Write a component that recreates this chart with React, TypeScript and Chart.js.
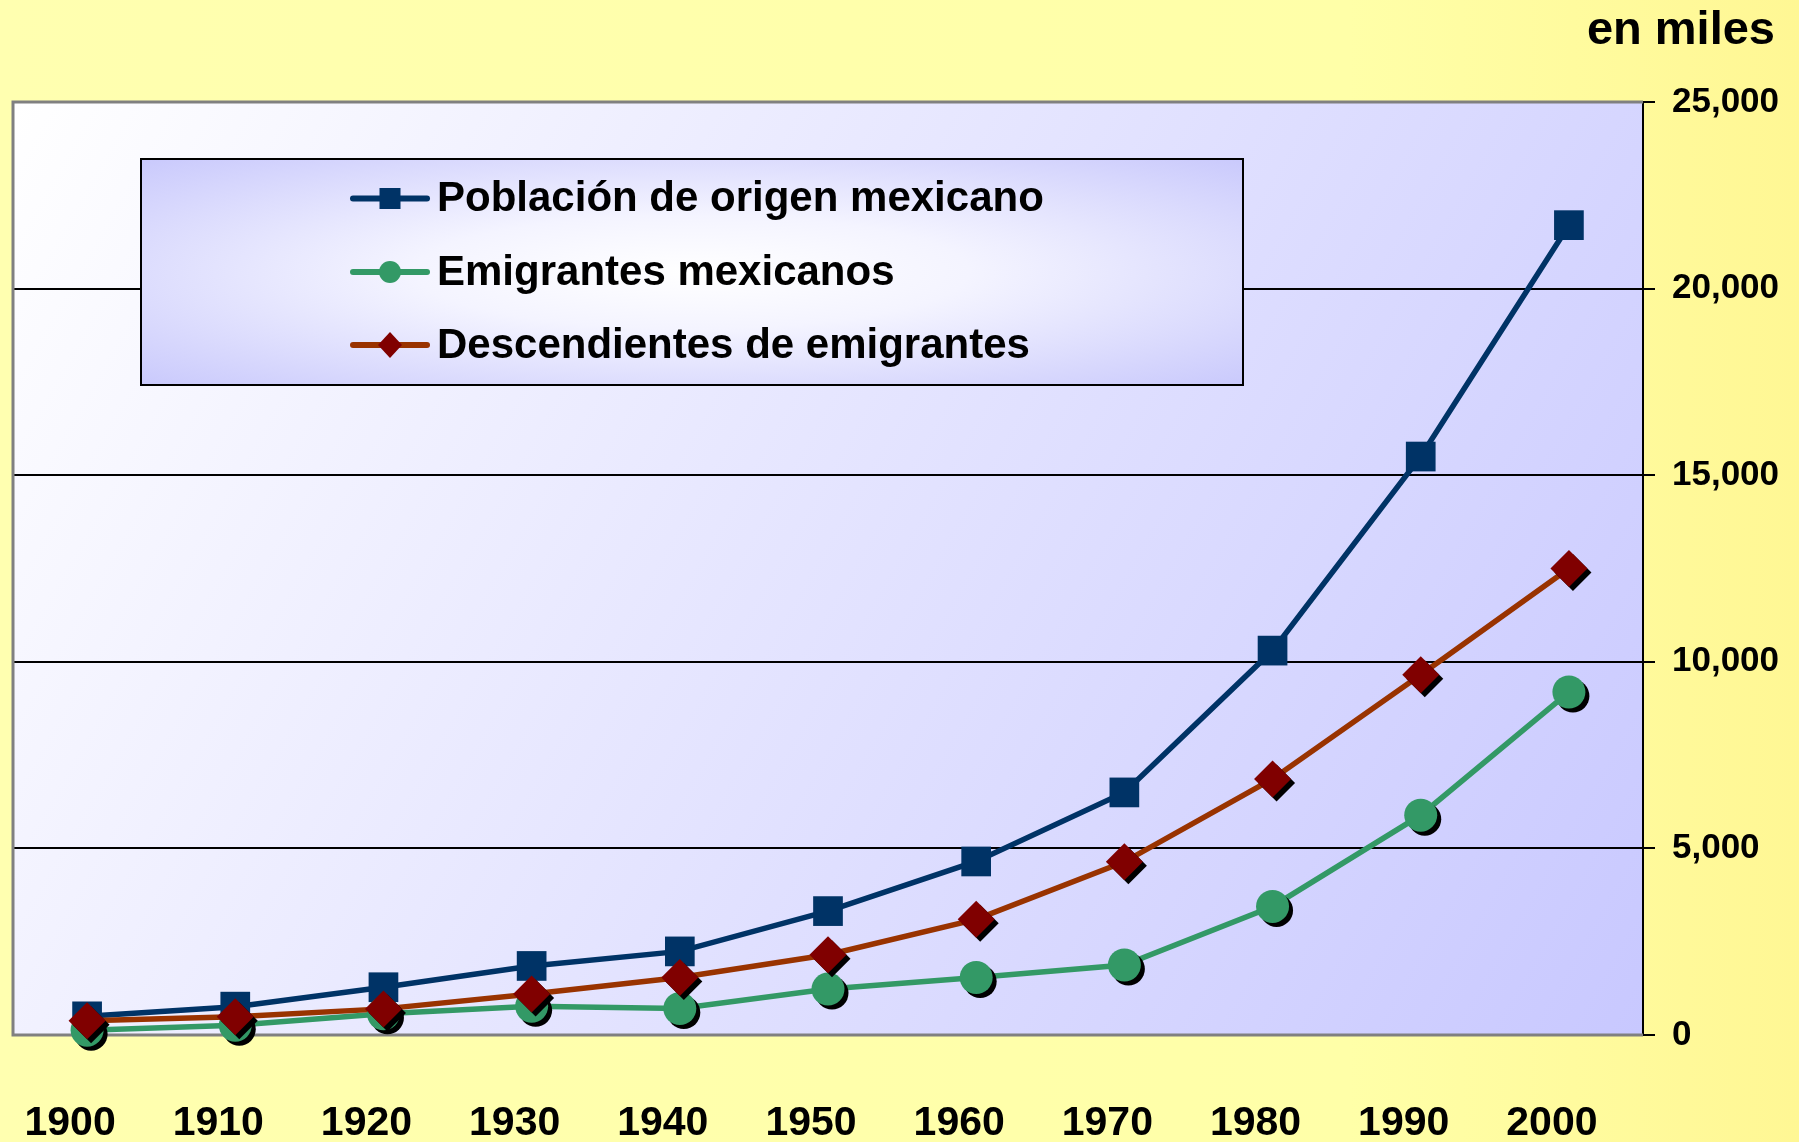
import React, { useEffect, useRef } from 'react';
import { Chart, registerables } from 'chart.js';

Chart.register(...registerables);

const years = ['1900', '1910', '1920', '1930', '1940', '1950', '1960', '1970', '1980', '1990', '2000'];
const poblacion = [500, 760, 1280, 1850, 2240, 3320, 4650, 6500, 10300, 15500, 21700];
const emigrantes = [130, 260, 570, 770, 710, 1230, 1540, 1875, 3445, 5890, 9190];
const descendientes = [380, 490, 700, 1100, 1540, 2150, 3100, 4640, 6860, 9650, 12500];
const seriesNames = ['Población de origen mexicano', 'Emigrantes mexicanos', 'Descendientes de emigrantes'];
const yTicks = [0, 5000, 10000, 15000, 20000, 25000];
const unitLabel = 'en miles';

const FONT = '"Liberation Sans", Arial, sans-serif';

const lineColors = ['#003366', '#339966', '#993300'];
const markerColors = ['#003366', '#339966', '#800000'];
const markerStyles = ['rect', 'circle', 'rectRot'];
const markerRadius = [21, 16.5, 18.5];
const markerShadow = [false, true, true];

export default function App() {
  const ref = useRef<HTMLCanvasElement | null>(null);

  useEffect(() => {
    const canvas = ref.current;
    if (!canvas) return;
    const seriesData = [poblacion, emigrantes, descendientes];

    const lineSets = seriesData.map((d, i) => ({
      label: seriesNames[i],
      data: d,
      borderColor: lineColors[i],
      backgroundColor: lineColors[i],
      borderWidth: 5.5,
      pointRadius: 0,
      tension: 0,
      clip: false as any,
      order: 10 - i,
    }));
    const pointSets = seriesData.map((d, i) => ({
      label: seriesNames[i] + ' (marcadores)',
      data: d,
      showLine: false,
      borderWidth: 0,
      borderColor: markerColors[i],
      backgroundColor: markerColors[i],
      pointStyle: markerStyles[i] as any,
      pointRadius: markerRadius[i],
      clip: false as any,
      order: 3 - i,
      markerShadow: markerShadow[i],
    }));

    const bgPlugin = {
      id: 'bgPlugin',
      beforeDraw(chart: any) {
        const { ctx, width, height, chartArea: ca } = chart;
        ctx.save();
        const g = ctx.createLinearGradient(0, 0, width, 0);
        g.addColorStop(0, '#ffffb0');
        g.addColorStop(0.75, '#ffffa8');
        g.addColorStop(1, '#fff794');
        ctx.fillStyle = g;
        ctx.fillRect(0, 0, width, height);
        const g2 = ctx.createLinearGradient(ca.left, ca.top, ca.right, ca.bottom);
        g2.addColorStop(0, '#ffffff');
        g2.addColorStop(1, '#c8c8ff');
        ctx.fillStyle = g2;
        ctx.fillRect(ca.left, ca.top, ca.right - ca.left, ca.bottom - ca.top);
        ctx.fillStyle = '#000';
        ctx.font = `bold 47px ${FONT}`;
        ctx.textAlign = 'right';
        ctx.textBaseline = 'alphabetic';
        ctx.fillText(unitLabel, width - 24, 44);
        ctx.restore();
      },
      beforeDatasetsDraw(chart: any) {
        const { ctx, chartArea: ca } = chart;
        ctx.save();
        // grey frame (left, top, bottom)
        ctx.strokeStyle = '#808080';
        ctx.lineWidth = 3;
        ctx.beginPath();
        ctx.moveTo(ca.right, ca.top);
        ctx.lineTo(ca.left, ca.top);
        ctx.lineTo(ca.left, ca.bottom);
        ctx.lineTo(ca.right, ca.bottom);
        ctx.stroke();

        // legend box
        const bx = ca.left + 128;
        const by = ca.top + 57;
        const bw = 1102;
        const bh = 226;
        ctx.save();
        ctx.beginPath();
        ctx.rect(bx, by, bw, bh);
        ctx.clip();
        const cx = bx + bw / 2;
        const cy = by + bh / 2;
        ctx.translate(cx, cy);
        ctx.scale(bw / bh, 1);
        const rg = ctx.createRadialGradient(0, 0, 0, 0, 0, bh * 0.72);
        rg.addColorStop(0, '#ffffff');
        rg.addColorStop(0.35, '#f4f4ff');
        rg.addColorStop(1, '#c8c8fc');
        ctx.fillStyle = rg;
        ctx.fillRect(-bh, -bh, bh * 2, bh * 2);
        ctx.restore();
        ctx.strokeStyle = '#000';
        ctx.lineWidth = 2;
        ctx.strokeRect(bx, by, bw, bh);

        const rowsY = [39.5, 113, 186];
        const symX0 = bx + 212;
        const symX1 = bx + 286;
        const symC = (symX0 + symX1) / 2;
        for (let i = 0; i < 3; i++) {
          const y = by + rowsY[i];
          ctx.strokeStyle = lineColors[i];
          ctx.lineWidth = 6;
          ctx.lineCap = 'round';
          ctx.beginPath();
          ctx.moveTo(symX0, y);
          ctx.lineTo(symX1, y);
          ctx.stroke();
          ctx.fillStyle = markerColors[i];
          ctx.beginPath();
          if (i === 0) {
            ctx.rect(symC - 10.5, y - 10.5, 21, 21);
          } else if (i === 1) {
            ctx.arc(symC, y, 11, 0, Math.PI * 2);
          } else {
            ctx.moveTo(symC, y - 13);
            ctx.lineTo(symC + 12, y);
            ctx.lineTo(symC, y + 13);
            ctx.lineTo(symC - 12, y);
            ctx.closePath();
          }
          ctx.fill();
          ctx.fillStyle = '#000';
          ctx.font = `bold 42px ${FONT}`;
          ctx.textAlign = 'left';
          ctx.textBaseline = 'middle';
          ctx.fillText(seriesNames[i], bx + 296, y + 1);
        }
        ctx.restore();
      },
      beforeDatasetDraw(chart: any, args: any) {
        const ds = chart.data.datasets[args.index];
        if (ds.showLine === false) {
          const ctx = chart.ctx;
          ctx.save();
          if (ds.markerShadow) {
            ctx.shadowColor = '#000';
            ctx.shadowOffsetX = 4;
            ctx.shadowOffsetY = 4;
            ctx.shadowBlur = 0;
          }
        }
      },
      afterDatasetDraw(chart: any, args: any) {
        const ds = chart.data.datasets[args.index];
        if (ds.showLine === false) chart.ctx.restore();
      },
    };

    const chart = new Chart(canvas, {
      type: 'line',
      data: { labels: years, datasets: [...lineSets, ...pointSets] as any },
      options: {
        animation: false,
        responsive: false,
        maintainAspectRatio: false,
        events: [],
        layout: { autoPadding: false, padding: { top: 102, left: 13, right: 0, bottom: 0 } },
        plugins: { legend: { display: false }, tooltip: { enabled: false }, title: { display: false } },
        scales: {
          x: {
            offset: true,
            grid: { display: false, drawTicks: false },
            border: { display: false },
            ticks: {
              color: '#000',
              font: { family: FONT, size: 41, weight: 'bold' },
              padding: 64,
              labelOffset: -17,
              maxRotation: 0,
              autoSkip: false,
            },
            afterFit: (s: any) => { s.height = 107; s.paddingLeft = 0; s.paddingRight = 0; },
          },
          y: {
            position: 'right',
            min: 0,
            max: 25000,
            afterBuildTicks: (s: any) => { s.ticks = yTicks.map((v) => ({ value: v })); },
            ticks: {
              color: '#000',
              font: { family: FONT, size: 35, weight: 'bold' },
              padding: 17,
              callback: (v: any) => Number(v).toLocaleString('en-US'),
            },
            grid: {
              color: (c: any) => (c.tick && (c.tick.value === 0 || c.tick.value === 25000) ? 'rgba(0,0,0,0)' : '#000'),
              lineWidth: 2,
              tickLength: 12,
              tickColor: '#000',
              tickWidth: 2,
            },
            border: { color: '#000', width: 2 },
            afterFit: (s: any) => { s.width = 156; s.paddingTop = 0; s.paddingBottom = 0; },
          },
        },
      } as any,
      plugins: [bgPlugin],
    });
    return () => chart.destroy();
  }, []);

  return (
    <div style={{ position: 'absolute', left: 0, top: 0, width: 1799, height: 1142 }}>
      <canvas ref={ref} width={1799} height={1142} style={{ display: 'block', width: 1799, height: 1142 }} />
    </div>
  );
}
